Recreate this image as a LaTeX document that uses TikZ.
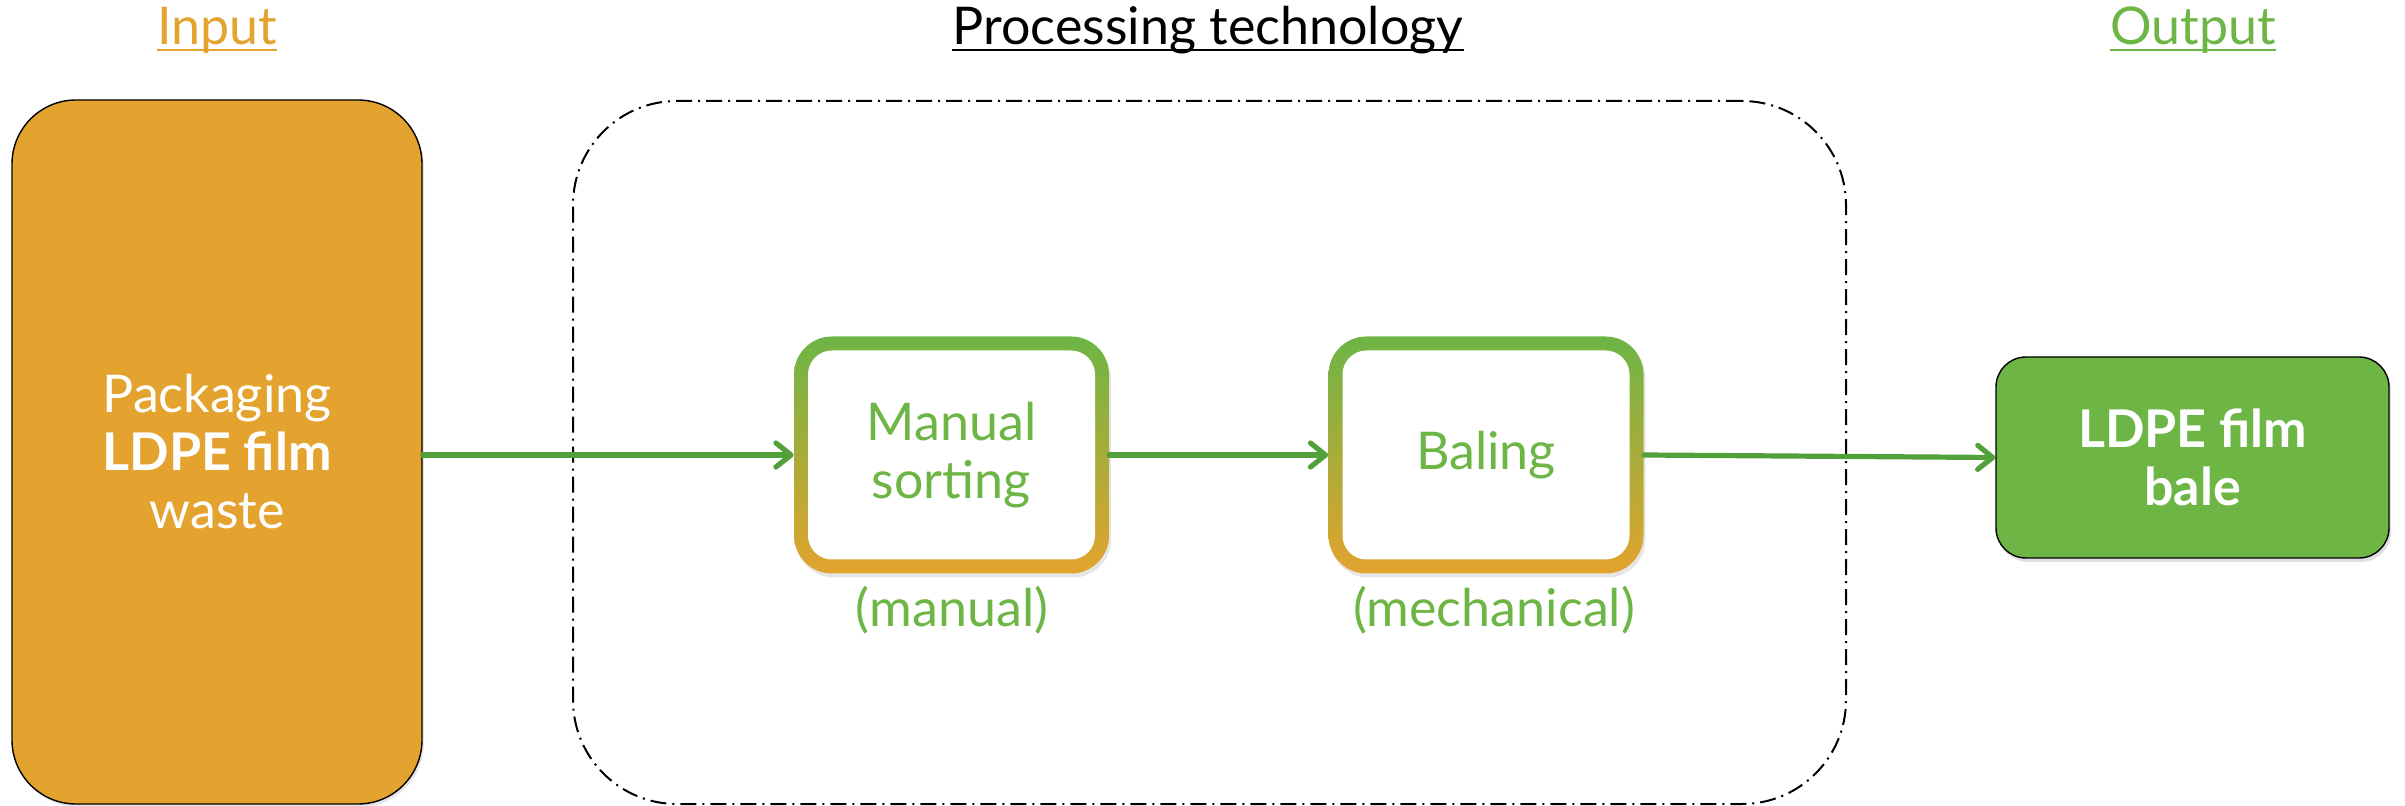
\documentclass[tikz,border=0pt]{standalone}
\usepackage{fontspec}
\setmainfont{Lato}
\usetikzlibrary{arrows.meta,shadows}
\definecolor{orng}{HTML}{E3A32E}
\definecolor{grn}{HTML}{6DB545}
\definecolor{arrgrn}{HTML}{52A03A}
\tikzset{
  txt/.style={font=\fontsize{26pt}{29pt}\selectfont, align=center},
  hdr/.style={font=\fontsize{26pt}{29pt}\selectfont, inner sep=0pt, anchor=base},
  inbox/.style={txt, draw=black, line width=0.7pt, fill=orng, text=white, rounded corners=32pt,
    drop shadow={opacity=0.2, shadow xshift=1pt, shadow yshift=-1.5pt}},
  outbox/.style={txt, draw=black, line width=0.7pt, fill=grn, text=white, rounded corners=15pt,
    drop shadow={opacity=0.25, shadow xshift=1pt, shadow yshift=-2pt}},
  gradbox/.style={top color=grn, bottom color=orng, rounded corners=19pt, inner sep=0pt,
    minimum width=157.5pt, minimum height=118.5pt,
    drop shadow={opacity=0.2, shadow xshift=1pt, shadow yshift=-2pt}},
  whitebox/.style={txt, fill=white, text=grn, rounded corners=12pt, inner sep=0pt,
    minimum width=143.5pt, minimum height=104.5pt},
  lbl/.style={txt, text=grn, inner sep=0pt},
  procbox/.style={draw=black, line width=1pt, rounded corners=52pt,
    dash pattern=on 8pt off 3pt on 1pt off 3pt, inner sep=0pt},
  flow/.style={draw=arrgrn, line width=2.6pt, line cap=round,
    -{Straight Barb[length=7.5pt,width=12pt,line cap=round,line join=round]}},
}
\begin{document}
\begin{tikzpicture}[x=0.5pt,y=-0.5pt]
\useasboundingbox (0,0) rectangle (2405,806);

% headers
\node[hdr, text=orng] (hin) at (217,45) {Input};
\draw[orng, line width=1pt] ([yshift=-2.5pt]hin.base west) -- ([yshift=-2.5pt]hin.base east);
\node[hdr, text=black] (hproc) at (1208,45) {Processing technology};
\draw[black, line width=1pt] ([yshift=-2.5pt]hproc.base west) -- ([yshift=-2.5pt]hproc.base east);
\node[hdr, text=grn] (hout) at (2193,45) {Output};
\draw[grn, line width=1pt] ([yshift=-2.5pt]hout.base west) -- ([yshift=-2.5pt]hout.base east);

% processing frame
\node[procbox, minimum width=636.5pt, minimum height=351.5pt] (proc) at (1209.5,452.5) {};

% input
\node[inbox, minimum width=205pt, minimum height=352pt] (in) at (217,452)
  {Packaging\\\textbf{LDPE film}\\waste};

% process steps
\node[gradbox] (man) at (951.5,455) {};
\node[whitebox] (mant) at (man) {Manual\\sorting};
\node[lbl] (manl) at (952,610) {(manual)};

\node[gradbox] (bal) at (1486,455) {};
\node[whitebox] (balt) at (bal) {Baling};
\node[lbl] (ball) at (1494,610) {(mechanical)};

% output
\node[outbox, minimum width=196.5pt, minimum height=100.5pt] (out) at (2192.5,457.5)
  {\textbf{LDPE film}\\\textbf{bale}};

% connectors
\draw[flow] (man.west -| in.east) -- (man.west);
\draw[flow] (man.east) -- (bal.west);
\draw[flow] (bal.east) -- (out.west);
\end{tikzpicture}
\end{document}
